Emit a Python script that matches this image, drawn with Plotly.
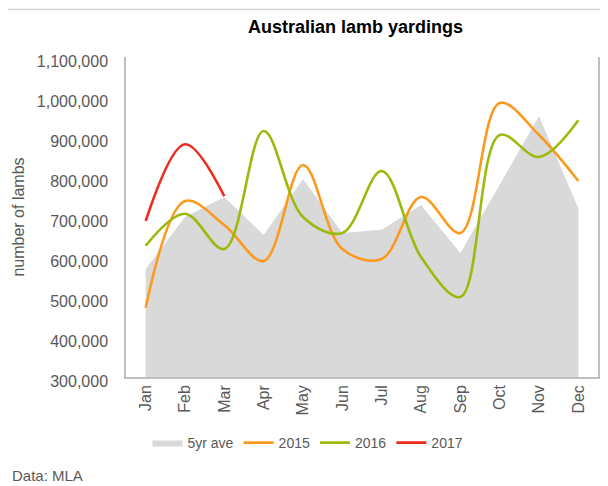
import plotly.graph_objects as go

months = ["Jan", "Feb", "Mar", "Apr", "May", "Jun", "Jul", "Aug", "Sep", "Oct", "Nov", "Dec"]
ave_5yr = [570000, 700000, 750000, 655000, 795000, 660000, 668000, 730000, 610000, 780000, 952000, 722000]
y2015 = [473000, 740000, 680000, 590000, 830000, 620000, 595000, 750000, 660000, 985000, 905000, 790000]
y2016 = [628000, 708000, 620000, 915000, 700000, 660000, 815000, 600000, 500000, 905000, 850000, 942000]
y2017 = [690000, 882000, 752000]
y_ticks = [300000, 400000, 500000, 600000, 700000, 800000, 900000, 1000000, 1100000]

FONT = "Liberation Sans, Arial, sans-serif"
GREY_TXT = "#595959"

# the page body adds an 8px offset; work in figure coordinates
OFF = 8
FW, FH = 608 - OFF, 486 - OFF
L, R, T, B = 126 - OFF, 598 - OFF, 57 - OFF, 377 - OFF
W, H = R - L, B - T


def px_x(p):
    return (p - OFF - L) / W


def px_y(p):
    return (B - (p - OFF)) / H


fig = go.Figure()
fig.add_trace(go.Scatter(x=months, y=ave_5yr, name="5yr ave", mode="lines",
                         line=dict(width=0, color="#d9d9d9"), fill="tozeroy",
                         fillcolor="#d9d9d9"))
fig.add_trace(go.Scatter(x=months, y=y2015, name="2015", mode="lines",
                         line=dict(color="#fb9a1e", width=2.6, shape="spline", smoothing=1.0)))
fig.add_trace(go.Scatter(x=months, y=y2016, name="2016", mode="lines",
                         line=dict(color="#9cba0e", width=2.6, shape="spline", smoothing=1.0)))
fig.add_trace(go.Scatter(x=months[:len(y2017)], y=y2017, name="2017", mode="lines",
                         line=dict(color="#ee2a1c", width=2.6, shape="spline", smoothing=1.0)))

fig.update_layout(
    width=FW, height=FH,
    margin=dict(l=L, r=FW - R, t=T, b=FH - B, autoexpand=False),
    paper_bgcolor="#f3f3f3",
    plot_bgcolor="rgba(0,0,0,0)",
    font=dict(family=FONT, color=GREY_TXT, size=16),
    showlegend=True,
    legend=dict(orientation="h", x=px_x(308), xanchor="center", y=px_y(443), yanchor="middle",
                font=dict(family=FONT, size=14, color=GREY_TXT), bgcolor="rgba(0,0,0,0)",
                itemwidth=30, tracegroupgap=0),
    shapes=[dict(type="rect", xref="paper", yref="paper", layer="below",
                 x0=px_x(7.5), x1=px_x(640), y0=px_y(520), y1=px_y(9.5),
                 fillcolor="#ffffff", line=dict(color="#cfcfcf", width=1))],
    annotations=[
        dict(text="<b>Australian lamb yardings</b>", xref="paper", yref="paper",
             x=px_x(355), y=px_y(27), xanchor="center", yanchor="middle", showarrow=False,
             font=dict(family=FONT, size=18, color="#000000")),
        dict(text="Data: MLA", xref="paper", yref="paper", x=px_x(10), y=px_y(475),
             xanchor="left", yanchor="middle", showarrow=False,
             font=dict(family=FONT, size=15, color=GREY_TXT)),
    ],
)

fig.update_xaxes(type="category", range=[-0.5, 11.5], tickangle=-90, showgrid=False,
                 showline=True, linecolor="#bfbfbf", linewidth=1.5, ticks="", automargin=False,
                 tickfont=dict(family=FONT, size=16, color=GREY_TXT))
fig.update_yaxes(range=[300000, 1100000], tickvals=y_ticks, tickformat=",d", showgrid=False,
                 showline=True, mirror=True, linecolor="#bfbfbf", linewidth=1.5, ticks="",
                 zeroline=False, ticklabelstandoff=13, ticklabelshift=4, automargin=False,
                 title=dict(text="number of lambs", standoff=8,
                            font=dict(family=FONT, size=16, color=GREY_TXT)),
                 tickfont=dict(family=FONT, size=16, color=GREY_TXT))

fig.write_html("out.html")
